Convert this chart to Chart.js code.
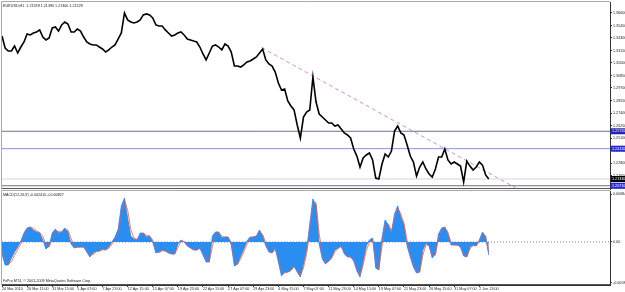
<!DOCTYPE html>
<html>
<head>
<meta charset="utf-8">
<title>EURUSD,H1</title>
<script src="https://cdn.jsdelivr.net/npm/chart.js@4.4.0/dist/chart.umd.min.js"></script>
<style>
  html, body { margin: 0; padding: 0; background: #fff; }
  #wrap { position: relative; width: 625px; height: 292px; overflow: hidden; }
  #price { position: absolute; left: 0; top: 0; }
  #macd { position: absolute; left: 0; top: 189px; }
</style>
</head>
<body>
<div id="wrap">
  <canvas id="price" width="625" height="190"></canvas>
  <canvas id="macd" width="625" height="103"></canvas>
</div>
<script>
// 时间轴标签（每8个点一个标签，每点约8根H1 K线）
const timeLabels = ['24 Mar 2010', '26 Mar 11:00', '31 Mar 15:00', '5 Apr 07:00', '7 Apr 23:00',
    '12 Apr 15:00', '15 Apr 07:00', '19 Apr 23:00', '22 Apr 15:00', '27 Apr 07:00',
    '29 Apr 23:00', '4 May 15:00', '7 May 07:00', '11 May 23:00', '14 May 15:00',
    '19 May 07:00', '21 May 23:00', '26 May 15:00', '31 May 07:00', '2 Jun 23:00'];
const labelStep = 8;

// 收盘价
const closes = [
    1.3448, 1.3338, 1.3310, 1.3310, 1.3356, 1.3292, 1.3347, 1.3393, 1.3467, 1.3458,
    1.3476, 1.3485, 1.3504, 1.3439, 1.3412, 1.3430, 1.3522, 1.3531, 1.3494, 1.3550,
    1.3577, 1.3559, 1.3485, 1.3485, 1.3513, 1.3494, 1.3439, 1.3393, 1.3375, 1.3366,
    1.3366, 1.3347, 1.3329, 1.3301, 1.3320, 1.3347, 1.3366, 1.3421, 1.3476, 1.3660,
    1.3596, 1.3577, 1.3568, 1.3577, 1.3596, 1.3642, 1.3651, 1.3642, 1.3614, 1.3550,
    1.3540, 1.3540, 1.3504, 1.3476, 1.3448, 1.3458, 1.3476, 1.3485, 1.3458, 1.3421,
    1.3412, 1.3402, 1.3393, 1.3347, 1.3283, 1.3228, 1.3292, 1.3356, 1.3366, 1.3347,
    1.3320, 1.3375, 1.3356, 1.3301, 1.3172, 1.3172, 1.3163, 1.3182, 1.3209, 1.3218,
    1.3237, 1.3255, 1.3292, 1.3329, 1.3228, 1.3191, 1.3172, 1.3117, 1.3016, 1.2952,
    1.2961, 1.2850, 1.2804, 1.2768, 1.2630, 1.2510, 1.2703, 1.2749, 1.2768, 1.3071,
    1.2841, 1.2731, 1.2703, 1.2676, 1.2648, 1.2648, 1.2620, 1.2630, 1.2593, 1.2556,
    1.2538, 1.2510, 1.2409, 1.2344, 1.2243, 1.2326, 1.2354, 1.2372, 1.2308, 1.2142,
    1.2133, 1.2271, 1.2363, 1.2335, 1.2390, 1.2574, 1.2620, 1.2556, 1.2538, 1.2446,
    1.2344, 1.2289, 1.2160, 1.2243, 1.2289, 1.2225, 1.2179, 1.2151, 1.2225, 1.2335,
    1.2335, 1.2409, 1.2308, 1.2271, 1.2289, 1.2271, 1.2252, 1.2105, 1.2298, 1.2252,
    1.2216, 1.2243, 1.2289, 1.2261, 1.2170, 1.2133
];

// MACD 柱状图
const macdHist = [
    -0.00171, -0.00328, -0.00328, -0.00228, -0.00143, -0.00071, 0.00014, 0.00128, 0.00200, 0.00214,
    0.00171, 0.00143, 0.00128, 0.00029, -0.00100, -0.00057, 0.00128, 0.00185, 0.00128, 0.00143,
    0.00200, 0.00143, -0.00029, -0.00086, -0.00071, -0.00071, -0.00071, -0.00143, -0.00214, -0.00157,
    -0.00128, -0.00128, -0.00100, -0.00114, -0.00071, 0.00000, 0.00071, 0.00185, 0.00513, 0.00627,
    0.00342, 0.00086, 0.00043, 0.00029, 0.00128, 0.00128, 0.00071, 0.00086, 0.00000, -0.00157,
    -0.00143, -0.00114, -0.00128, -0.00157, -0.00171, -0.00171, -0.00029, 0.00029, 0.00000, -0.00057,
    -0.00086, -0.00114, -0.00114, -0.00086, -0.00185, -0.00285, -0.00285, 0.00086, 0.00143, 0.00143,
    0.00057, 0.00071, 0.00071, -0.00043, -0.00342, -0.00314, -0.00200, -0.00100, 0.00014, 0.00071,
    0.00071, 0.00086, 0.00171, 0.00086, -0.00057, -0.00143, -0.00157, -0.00086, -0.00285, -0.00485,
    -0.00428, -0.00428, -0.00399, -0.00342, -0.00428, -0.00499, -0.00314, -0.00114, 0.00257, 0.00613,
    0.00527, -0.00029, -0.00242, -0.00314, -0.00271, -0.00214, -0.00114, -0.00086, -0.00057, -0.00171,
    -0.00214, -0.00214, -0.00271, -0.00413, -0.00499, -0.00271, -0.00057, 0.00029, 0.00057, -0.00371,
    -0.00399, 0.00057, 0.00314, 0.00242, 0.00128, 0.00399, 0.00513, 0.00356, 0.00242, -0.00057,
    -0.00214, -0.00356, -0.00442, -0.00428, -0.00114, -0.00014, -0.00057, -0.00228, -0.00171, 0.00114,
    0.00200, 0.00214, 0.00114, -0.00043, -0.00043, -0.00043, -0.00071, -0.00200, -0.00214, -0.00071,
    -0.00043, -0.00057, 0.00029, 0.00143, 0.00071, -0.00185
];

// MACD 信号线
const macdSignal = [
    -0.00120, -0.00250, -0.00320, -0.00280, -0.00190, -0.00110, -0.00030, 0.00080, 0.00170, 0.00210,
    0.00195, 0.00160, 0.00135, 0.00080, -0.00040, -0.00075, 0.00040, 0.00160, 0.00150, 0.00140,
    0.00175, 0.00170, 0.00050, -0.00060, -0.00075, -0.00072, -0.00072, -0.00110, -0.00180, -0.00180,
    -0.00140, -0.00128, -0.00112, -0.00110, -0.00090, -0.00030, 0.00040, 0.00130, 0.00380, 0.00590,
    0.00460, 0.00180, 0.00060, 0.00035, 0.00090, 0.00125, 0.00095, 0.00085, 0.00030, -0.00100,
    -0.00150, -0.00125, -0.00125, -0.00145, -0.00165, -0.00171, -0.00080, 0.00005, 0.00010, -0.00035,
    -0.00075, -0.00100, -0.00114, -0.00095, -0.00150, -0.00250, -0.00285, -0.00060, 0.00110, 0.00140,
    0.00085, 0.00068, 0.00070, 0.00000, -0.00250, -0.00320, -0.00240, -0.00140, -0.00030, 0.00050,
    0.00070, 0.00080, 0.00145, 0.00110, -0.00020, -0.00120, -0.00150, -0.00105, -0.00230, -0.00420,
    -0.00445, -0.00430, -0.00410, -0.00360, -0.00405, -0.00480, -0.00370, -0.00170, 0.00160, 0.00530,
    0.00560, 0.00120, -0.00190, -0.00295, -0.00280, -0.00230, -0.00140, -0.00095, -0.00065, -0.00145,
    -0.00200, -0.00214, -0.00255, -0.00370, -0.00475, -0.00330, -0.00120, -0.00010, 0.00045, -0.00260,
    -0.00390, -0.00060, 0.00240, 0.00260, 0.00160, 0.00330, 0.00480, 0.00400, 0.00270, 0.00020,
    -0.00170, -0.00320, -0.00420, -0.00430, -0.00190, -0.00040, -0.00050, -0.00190, -0.00185, 0.00050,
    0.00180, 0.00210, 0.00140, -0.00010, -0.00040, -0.00043, -0.00065, -0.00170, -0.00210, -0.00100,
    -0.00050, -0.00055, 0.00010, 0.00120, 0.00090, -0.00140
];

// 坐标轴刻度
const priceTicks = [1.3660, 1.3545, 1.3430, 1.3315, 1.3200, 1.3085, 1.2970, 1.2855,
    1.2740, 1.2625, 1.2510, 1.2395, 1.2280, 1.2165, 1.2050];
const macdTicks = [0.00684, 0, -0.00584];

// 水平线、趋势线
const levels = [1.2572, 1.2412, 1.2133, 1.2071];
const trendIdx = [82.7, 165.6];
const trendPrice = [1.3341, 1.2019];

// 样式
const levelColors = ['#6e6e8c', '#8e8ee8', '#d6d6d6', '#6e6e8c'];
const levelBoxColors = ['#2424b0', '#2a2ad2', '#000000', '#2a2ad2'];
const X_MAX = 193.6;
const PRICE_MIN = 1.2041, PRICE_MAX = 1.3761;
const MACD_MIN = -0.00613, MACD_MAX = 0.00727;
const FONT = { family: 'Liberation Sans', size: 3.7 };
const FONT_CSS = '3.7px "Liberation Sans"';

function toPoints(arr) {
    return arr.map((v, i) => ({ x: i, y: v }));
}

function rightAxis(min, max, ticks, fmt) {
    return {
        position: 'right', min: min, max: max,
        afterFit: s => { s.width = 15; s.paddingTop = 0; s.paddingBottom = 0; },
        afterBuildTicks: s => { s.ticks = ticks.map(v => ({ value: v })); },
        grid: { drawOnChartArea: false, tickLength: 2, color: '#333' },
        border: { display: true, color: '#333' },
        ticks: { font: FONT, color: '#222', padding: 1, autoSkip: false, callback: fmt }
    };
}

// 边框
const framePlugin = {
    id: 'frame',
    beforeDatasetsDraw(chart) {
        const { ctx, chartArea: a } = chart;
        ctx.save();
        ctx.lineWidth = 1;
        ctx.strokeStyle = '#a8a8a8';
        ctx.beginPath();
        ctx.moveTo(a.left - 0.5, a.bottom);
        ctx.lineTo(a.left - 0.5, a.top - 0.5);
        ctx.lineTo(a.right, a.top - 0.5);
        ctx.stroke();
        ctx.strokeStyle = '#555';
        ctx.beginPath();
        ctx.moveTo(a.left, a.bottom - 0.5);
        ctx.lineTo(a.right, a.bottom - 0.5);
        ctx.stroke();
        ctx.restore();
    }
};

// 文字标签
function textPlugin(id, items) {
    return {
        id: id,
        afterDraw(chart) {
            const ctx = chart.ctx;
            ctx.save();
            ctx.font = FONT_CSS;
            ctx.fillStyle = '#222';
            ctx.textBaseline = 'middle';
            items.forEach(t => ctx.fillText(t[0], t[1], t[2]));
            ctx.restore();
        }
    };
}

// 右侧价格标签框
const levelBoxPlugin = {
    id: 'levelBox',
    afterDraw(chart) {
        const { ctx, chartArea: a } = chart;
        const y = chart.scales.y;
        ctx.save();
        ctx.font = FONT_CSS;
        ctx.textBaseline = 'middle';
        levels.forEach((lv, k) => {
            const py = y.getPixelForValue(lv);
            ctx.fillStyle = levelBoxColors[k];
            ctx.fillRect(a.right + 1, py - 3, 20, 6);
            ctx.fillStyle = '#fff';
            ctx.fillText(lv.toFixed(5), a.right + 2, py);
        });
        ctx.restore();
    }
};

function initPriceChart() {
    const datasets = [{
        data: toPoints(closes), borderColor: '#000', borderWidth: 1.6, pointRadius: 0
    }];
    levels.forEach((lv, k) => {
        datasets.push({
            data: [{ x: 0, y: lv }, { x: X_MAX, y: lv }],
            borderColor: levelColors[k], borderWidth: 1, pointRadius: 0
        });
    });
    datasets.push({
        data: trendIdx.map((x, k) => ({ x: x, y: trendPrice[k] })),
        borderColor: '#d88ad8', borderWidth: 1, borderDash: [4, 3], pointRadius: 0
    });

    new Chart(document.getElementById('price'), {
        type: 'line',
        data: { datasets: datasets },
        options: {
            responsive: false, animation: false, events: [],
            layout: { padding: { left: 2, top: 2, right: 0, bottom: 1 } },
            plugins: { legend: { display: false }, tooltip: { enabled: false } },
            scales: {
                x: { type: 'linear', display: false, min: 0, max: X_MAX },
                y: rightAxis(PRICE_MIN, PRICE_MAX, priceTicks, v => v.toFixed(5))
            }
        },
        plugins: [framePlugin, levelBoxPlugin,
            textPlugin('header', [['EURUSD,H1  1.21339 1.21390 1.21300 1.21329', 3, 6]])]
    });
}

function initMacdChart() {
    new Chart(document.getElementById('macd'), {
        type: 'line',
        data: {
            datasets: [
                { data: toPoints(macdSignal), borderColor: '#e25a5a', borderWidth: 0.8, pointRadius: 0 },
                { data: toPoints(macdHist), borderColor: '#1e88ee', backgroundColor: '#2a8ef0', borderWidth: 0.8, fill: 'origin', pointRadius: 0 },
                { data: [{ x: 0, y: 0 }, { x: X_MAX, y: 0 }], borderColor: '#b07070', borderWidth: 1, borderDash: [1, 2], pointRadius: 0 }
            ]
        },
        options: {
            responsive: false, animation: false, events: [],
            layout: { padding: { left: 2, top: 2, right: 0, bottom: 0 } },
            plugins: { legend: { display: false }, tooltip: { enabled: false } },
            scales: {
                x: {
                    type: 'linear', min: 0, max: X_MAX,
                    afterFit: s => { s.height = 7; s.paddingLeft = 0; s.paddingRight = 0; },
                    afterBuildTicks: s => { s.ticks = timeLabels.map((t, k) => ({ value: k * labelStep })); },
                    grid: { drawOnChartArea: false, tickLength: 2, color: '#333' },
                    border: { display: true, color: '#333' },
                    ticks: {
                        font: FONT, color: '#222', padding: 0, align: 'start', maxRotation: 0, autoSkip: false,
                        callback: (v, k) => timeLabels[k]
                    }
                },
                y: rightAxis(MACD_MIN, MACD_MAX, macdTicks, v => v === 0 ? '0.00' : v.toFixed(6))
            }
        },
        plugins: [framePlugin, textPlugin('macdText', [
            ['MACD(12,26,9) -0.002410 -0.000827', 3, 6],
            ['FxPro MT4, \u00a9 2001-2009 MetaQuotes Software Corp.', 3, 92]
        ])]
    });
}

initPriceChart();
initMacdChart();
</script>
</body>
</html>
